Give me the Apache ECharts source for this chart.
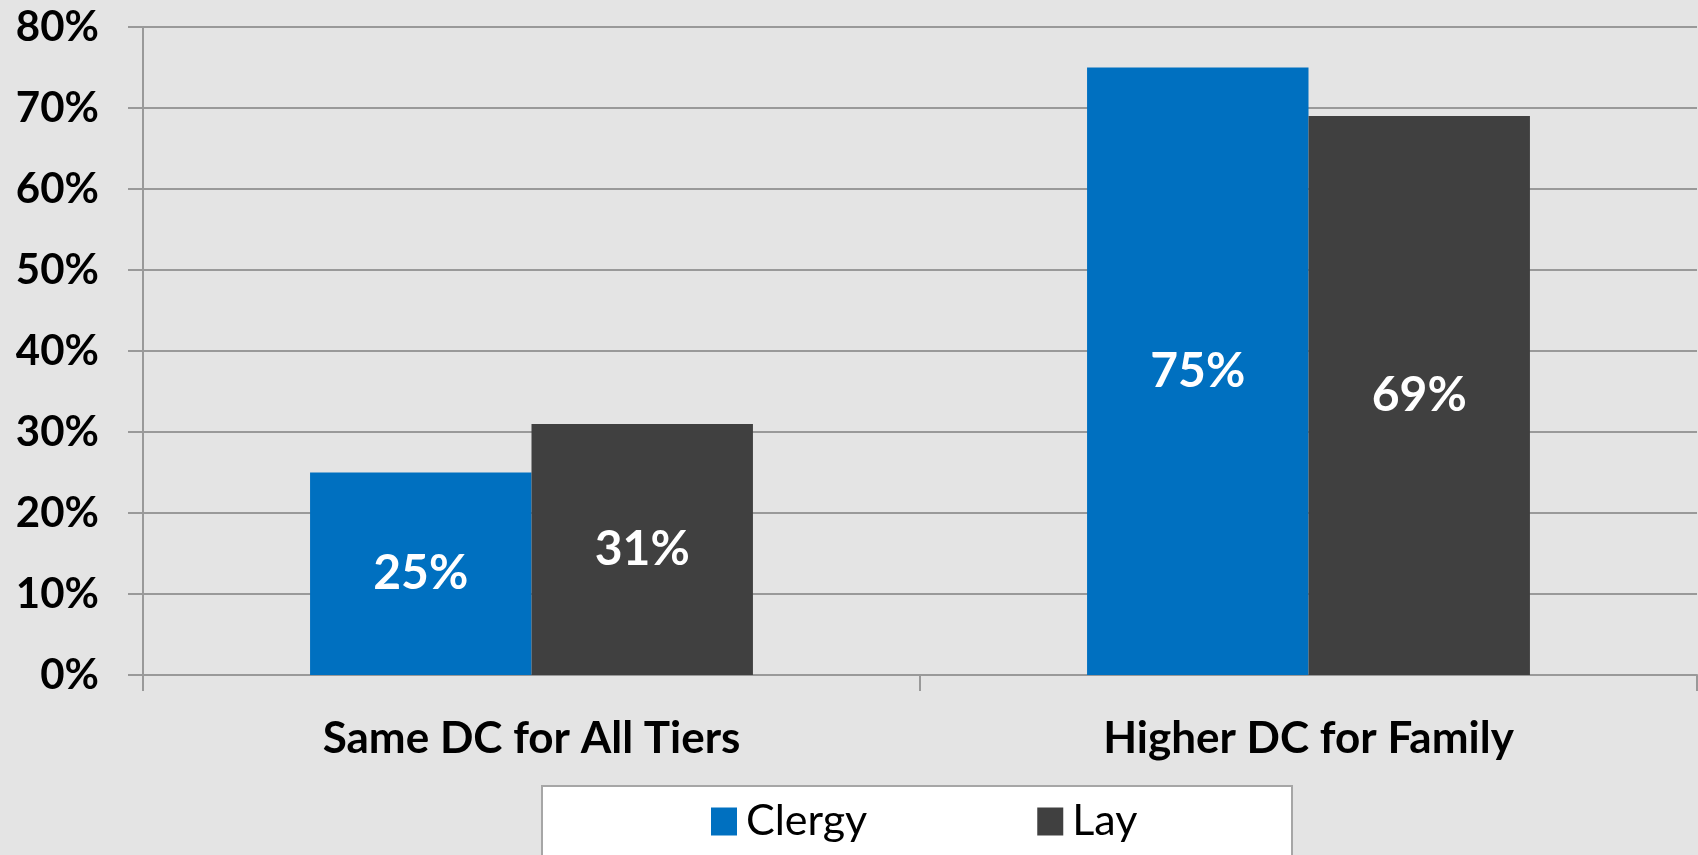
<!DOCTYPE html>
<html>
<head>
<meta charset="utf-8">
<script src="https://cdn.jsdelivr.net/npm/echarts@6/dist/echarts.min.js"></script>
<style>
  html, body { margin: 0; padding: 0; background: #e4e4e4; }
  #chart { width: 1698px; height: 855px; }
</style>
</head>
<body>
<div id="chart"></div>
<script>
// Share of respondents by contribution design
const categories = ['Same DC for All Tiers', 'Higher DC for Family'];
const clergy = [25, 75];
const lay = [31, 69];
const seriesNames = ['Clergy', 'Lay'];

const FONT = 'Lato';
const chart = echarts.init(document.getElementById('chart'));

const barLabel = {
  show: true,
  position: 'inside',
  color: '#ffffff',
  fontFamily: FONT,
  fontWeight: 'bold',
  fontSize: 48,
  formatter: p => p.value + '%'
};

chart.setOption({
  backgroundColor: '#e4e4e4',
  animation: false,
  grid: { left: 143, right: 1, top: 27, bottom: 180 },
  graphic: [{
    type: 'rect',
    left: 541, top: 785,
    shape: { width: 750, height: 90 },
    style: { fill: '#ffffff', stroke: '#a6a6a6', lineWidth: 2 },
    z: 1
  }],
  legend: {
    data: seriesNames,
    left: 706,
    top: 795,
    itemWidth: 26,
    itemHeight: 28,
    itemGap: 170,
    icon: 'rect',
    z: 5,
    textStyle: { fontFamily: FONT, fontSize: 43, color: '#000000', padding: [0, 0, 0, 4] }
  },
  xAxis: {
    type: 'category',
    data: categories,
    axisLine: { show: true, lineStyle: { color: '#999999', width: 2 } },
    axisTick: { show: true, length: 16, lineStyle: { color: '#999999', width: 2 } },
    axisLabel: {
      margin: 42,
      fontFamily: FONT, fontWeight: 'bold', fontSize: 44, color: '#000000'
    }
  },
  yAxis: {
    type: 'value',
    min: 0, max: 80, interval: 10,
    axisLine: { show: true, lineStyle: { color: '#999999', width: 2 } },
    axisTick: { show: true, length: 15, lineStyle: { color: '#999999', width: 2 } },
    splitLine: { show: true, lineStyle: { color: '#999999', width: 2 } },
    axisLabel: {
      margin: 44,
      formatter: '{value}%',
      fontFamily: FONT, fontWeight: 'bold', fontSize: 42, color: '#000000'
    }
  },
  series: [
    {
      name: seriesNames[0], type: 'bar', data: clergy,
      itemStyle: { color: '#0070c0' },
      barGap: '0%', barCategoryGap: '43%',
      label: barLabel
    },
    {
      name: seriesNames[1], type: 'bar', data: lay,
      itemStyle: { color: '#404040' },
      barGap: '0%', barCategoryGap: '43%',
      label: barLabel
    }
  ]
});
</script>
</body>
</html>
